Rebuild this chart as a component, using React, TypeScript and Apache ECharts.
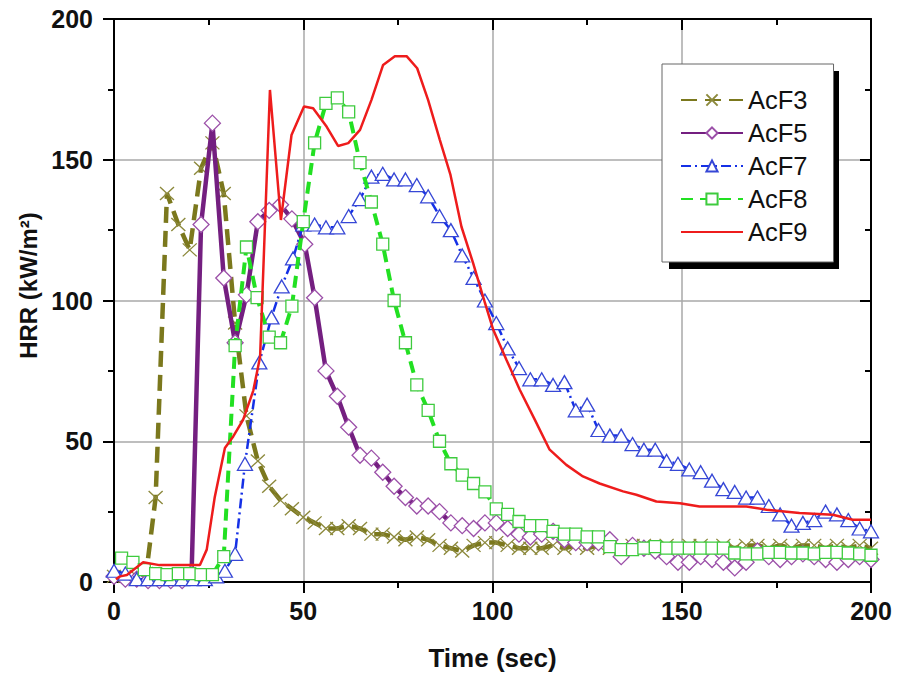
import React, { useEffect, useRef } from "react";
import * as echarts from "echarts";

const FONT = "'Liberation Sans', Arial, sans-serif";

const xTicks = [0, 50, 100, 150, 200];
const yTicks = [0, 50, 100, 150, 200];

const acf3T = [0, 3, 6, 8.5, 11, 14, 17, 20, 23, 26, 29, 32, 35, 38, 41, 44, 47, 50, 53, 56, 59, 62, 65, 68, 71, 74, 77, 80, 83, 86, 89, 92, 95, 98, 101, 104, 107, 110, 113, 116, 119, 122, 125, 128, 131, 134, 137, 140, 143, 146, 149, 152, 155, 158, 161, 164, 167, 170, 173, 176, 179, 182, 185, 188, 191, 194, 197, 200];
const acf3V = [2, 2, 2, 3, 30, 138, 127, 118, 147, 156, 138, 92, 59, 43, 34, 29, 26, 23, 21, 19, 19, 20, 19, 17, 17, 16, 15, 16, 15, 13, 12, 11, 13, 14, 14, 13, 12, 12, 12, 13, 12, 13, 12, 13, 12, 12, 13, 13, 12, 13, 12, 13, 13, 12, 13, 12, 13, 13, 12, 13, 12, 13, 13, 12, 13, 12, 13, 12];

const acf5T = [0, 3, 6, 9, 12, 15, 18, 20.5, 23, 26, 29, 32, 35, 38, 41, 44, 47, 50.4, 53, 56, 59, 62, 65, 68, 71, 74, 77, 80, 83, 86, 89, 92, 95, 98, 101, 104, 107, 110, 113, 116, 119, 122, 125, 128, 131, 134, 137, 140, 143, 146, 149, 152, 155, 158, 161, 164, 167, 170, 173, 176, 179, 182, 185, 188, 191, 194, 197, 200];
const acf5V = [2, 1, 1, 0.5, 0.5, 0.5, 0.5, 3, 127, 163, 108, 85, 102, 128, 132, 134, 129, 120, 101, 75, 66, 55, 45, 44, 39, 34, 30, 27, 27, 25, 21, 20, 19, 21, 21, 19, 17, 16, 17, 18, 15, 14, 14, 14, 15, 9, 13, 12, 11, 9, 7, 7, 9, 8, 7, 5, 7, 11, 9, 8, 9, 10, 9, 8, 7, 8, 9, 8];

const acf7T = [0, 3, 6, 9, 12, 15, 18, 21, 24, 27, 29.3, 32, 34.6, 38.4, 41.6, 44.3, 47.3, 50, 53, 56, 59, 62, 65, 68, 71, 74, 77, 80, 83, 86, 89, 92, 95, 98, 101, 104, 107, 110, 113, 116, 119, 122, 125, 128, 131, 134, 137, 140, 143, 146, 149, 152, 155, 158, 161, 164, 167, 170, 173, 176, 179, 182, 185, 188, 191, 194, 197, 200];
const acf7V = [4, 3, 1, 1, 1, 1, 1, 1, 1, 2, 4, 10, 42, 78, 94, 105, 115, 127, 127, 126, 126, 130, 136, 144, 145, 143, 143, 141, 137, 130, 125, 116, 108, 100, 92, 83, 76, 72, 72, 70, 71, 61, 63, 54, 52, 52, 49, 47, 47, 43, 42, 40, 39, 36, 33, 32, 30, 30, 27, 24, 20, 21, 22, 25, 24, 22, 19, 18];

const acf8T = [2, 5, 8, 11, 14, 17, 20, 23, 26, 29, 32, 35, 37.8, 41, 44, 47, 50, 53, 56, 59, 62, 65, 68, 71, 74, 77, 80, 83, 86, 89, 92, 95, 98, 101, 104, 107, 110, 113, 116, 119, 122, 125, 128, 131, 134, 137, 140, 143, 146, 149, 152, 155, 158, 161, 164, 167, 170, 173, 176, 179, 182, 185, 188, 191, 194, 197, 200];
const acf8V = [8.5, 7, 4.4, 3, 2.6, 3, 3, 2.6, 2.6, 9, 84, 119, 101, 87, 85, 98, 128, 156, 170, 172, 167, 149, 135, 120, 100, 85, 70, 61, 50, 42, 38, 35, 32, 26, 24, 21.5, 20, 20, 18, 17, 17, 16, 16, 12.6, 11.5, 11.5, 12, 12.6, 12, 12, 12, 12, 12, 12, 10.3, 10, 10, 10.5, 10.5, 10.3, 10.3, 10, 10.5, 10.5, 10.3, 10, 9.5];

const acf9T = [0.5, 1.6, 3.4, 7.7, 12, 22.7, 24.5, 26.6, 29.3, 31.5, 34.1, 36.8, 38.6, 41.2, 44.1, 46.9, 50.2, 52.6, 56.2, 59.2, 61.9, 65, 68, 71.1, 74.2, 77.3, 80.1, 83, 86.1, 88.9, 91.8, 94.9, 97.5, 100.2, 103.7, 107.2, 111.2, 115.1, 119.5, 123.9, 128.3, 134.5, 138, 143.3, 149.5, 154.7, 167.1, 172.4, 181.1, 189.9, 195.2, 200];
const acf9V = [1, 2, 2.5, 7, 6, 6, 11.5, 30, 47.6, 51.7, 57.6, 68, 80, 174.8, 128.6, 158.8, 168.9, 168.3, 161.7, 154.9, 155.9, 160.6, 171.2, 183.7, 186.8, 186.8, 182.5, 171.2, 157, 144.6, 126.2, 113.2, 101.4, 89.6, 78.9, 68.3, 57.6, 47, 41.6, 37.5, 35, 32.2, 31, 28.6, 28, 26.8, 26.8, 25.7, 24.5, 23.9, 22.1, 22.1];

const seriesNames = ["AcF3", "AcF5", "AcF7", "AcF8", "AcF9"];

const zip = (t: number[], v: number[]) => t.map((x, i) => [x, v[i]]);

export default function App() {
  const ref = useRef<HTMLDivElement>(null);
  useEffect(() => {
    if (!ref.current) return;
    const chart = echarts.init(ref.current, undefined, { renderer: "svg" });
    const tickStyle = { color: "#000", width: 2 };
    const labelStyle = { fontSize: 25, fontWeight: "bold" as const, color: "#111", fontFamily: FONT };
    const baseX = {
      type: "value" as const,
      min: xTicks[0],
      max: xTicks[xTicks.length - 1],
      interval: xTicks[1] - xTicks[0],
    };
    const baseY = {
      type: "value" as const,
      min: yTicks[0],
      max: yTicks[yTicks.length - 1],
      interval: yTicks[1] - yTicks[0],
    };
    chart.setOption({
      animation: false,
      backgroundColor: "#fff",
      grid: { left: 114, right: 28, top: 19, bottom: 97 },
      xAxis: [
        {
          ...baseX,
          position: "bottom",
          name: "Time (sec)",
          nameLocation: "middle",
          nameGap: 63,
          nameTextStyle: { fontSize: 26, fontWeight: "bold", color: "#111", fontFamily: FONT },
          axisLine: { onZero: false, lineStyle: { color: "#000", width: 2 } },
          axisTick: { length: 11, lineStyle: tickStyle },
          minorTick: { show: true, splitNumber: 2, length: 6, lineStyle: tickStyle },
          axisLabel: { ...labelStyle, margin: 16 },
          splitLine: { show: true, lineStyle: { color: "#a8a8a8", width: 1.5 } },
        },
        {
          ...baseX,
          position: "top",
          axisLine: { onZero: false, lineStyle: { color: "#000", width: 2 } },
          axisTick: { inside: true, length: 11, lineStyle: tickStyle },
          minorTick: { show: true, splitNumber: 2, length: 6, lineStyle: tickStyle },
          axisLabel: { show: false },
          splitLine: { show: false },
        },
      ],
      yAxis: [
        {
          ...baseY,
          position: "left",
          name: "HRR (kW/m²)",
          nameLocation: "middle",
          nameGap: 74,
          nameTextStyle: {
            fontSize: 24,
            fontWeight: "bold",
            color: "#111",
            fontFamily: FONT,
            padding: [0, 0, 0, 30],
          },
          axisLine: { onZero: false, lineStyle: { color: "#000", width: 2 } },
          axisTick: { length: 11, lineStyle: tickStyle },
          minorTick: { show: true, splitNumber: 2, length: 6, lineStyle: tickStyle },
          axisLabel: { ...labelStyle, margin: 21 },
          splitLine: { show: true, lineStyle: { color: "#a8a8a8", width: 1.5 } },
        },
        {
          ...baseY,
          position: "right",
          axisLine: { onZero: false, lineStyle: { color: "#000", width: 2 } },
          axisTick: { inside: true, length: 11, lineStyle: tickStyle },
          minorTick: { show: true, splitNumber: 2, length: 6, lineStyle: tickStyle },
          axisLabel: { show: false },
          splitLine: { show: false },
        },
      ],
      legend: {
        data: seriesNames.map((n) =>
          n === "AcF9"
            ? { name: n, itemStyle: { color: "rgba(0,0,0,0)", borderColor: "rgba(0,0,0,0)", borderWidth: 0 } }
            : { name: n }
        ),
        orient: "vertical",
        left: 662,
        top: 64,
        itemWidth: 62,
        itemHeight: 14,
        itemGap: 7,
        padding: [23, 26, 17, 18],
        backgroundColor: "#fff",
        borderColor: "#666",
        borderWidth: 1,
        textStyle: { fontSize: 25.5, color: "#111", fontFamily: FONT, lineHeight: 26 },
        z: 6,
      },
      graphic: [
        {
          type: "rect",
          z: 5,
          shape: { x: 669, y: 71, width: 170, height: 198 },
          style: { fill: "#000" },
        },
      ],
      series: [
        {
          name: "AcF3",
          type: "line",
          data: zip(acf3T, acf3V),
          symbol: "path://M0,0L10,10M10,0L0,10",
          symbolSize: [14, 13],
          itemStyle: { color: "#fff", borderColor: "#8c893c", borderWidth: 1.3 },
          lineStyle: { color: "#7b781d", width: 4.5, type: [16, 8] },
          z: 2,
        },
        {
          name: "AcF5",
          type: "line",
          data: zip(acf5T, acf5V),
          symbol: "diamond",
          symbolSize: [16, 16],
          itemStyle: { color: "#fff", borderColor: "#9b4fa8", borderWidth: 1.3 },
          lineStyle: { color: "#741f80", width: 4.5 },
          z: 3,
        },
        {
          name: "AcF7",
          type: "line",
          data: zip(acf7T, acf7V),
          symbol: "triangle",
          symbolSize: [15, 13],
          itemStyle: { color: "#fff", borderColor: "#3647d6", borderWidth: 1.3 },
          lineStyle: { color: "#1530e6", width: 2.5, type: [10, 4, 2, 4] },
          z: 4,
        },
        {
          name: "AcF8",
          type: "line",
          data: zip(acf8T, acf8V),
          symbol: "rect",
          symbolSize: 12,
          itemStyle: { color: "#fff", borderColor: "#3ecb3e", borderWidth: 1.3 },
          lineStyle: { color: "#22e022", width: 4, type: [12, 7] },
          z: 5,
        },
        {
          name: "AcF9",
          type: "line",
          data: zip(acf9T, acf9V),
          symbol: "none",
          itemStyle: { color: "#ee1c1c" },
          lineStyle: { color: "#ee1c1c", width: 2.5 },
          z: 6,
        },
      ],
    });
    return () => chart.dispose();
  }, []);
  return (
    <div
      ref={ref}
      style={{ position: "absolute", left: 0, top: 0, width: 899, height: 679 }}
    />
  );
}
